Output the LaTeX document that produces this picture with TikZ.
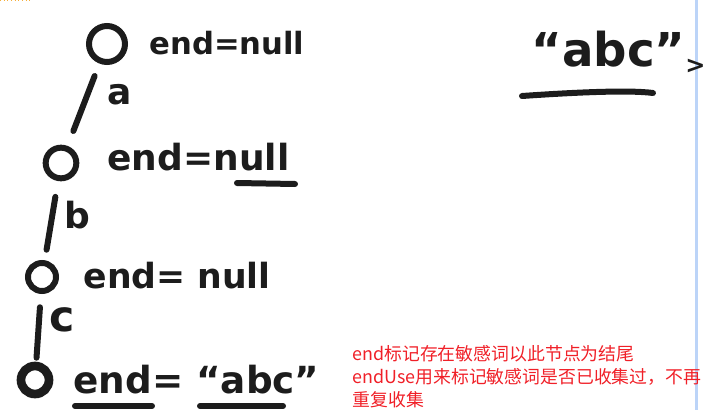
\documentclass[tikz,border=0pt]{standalone}
\usepackage{fontspec}
\newfontfamily\handfont{DejaVu Sans}
\newfontfamily\cjk{Noto Sans CJK SC}
\usetikzlibrary{positioning}

\definecolor{ink}{RGB}{28,28,28}
\definecolor{notered}{RGB}{240,32,40}
\definecolor{paneblue}{RGB}{188,212,248}
\definecolor{tagorange}{RGB}{245,175,60}

\tikzset{every picture/.style={line width=0.75pt}}
\tikzset{
  trienode/.style={circle,draw=ink,line width=4.5pt,inner sep=0pt,fill=white},
  trieedge/.style={draw=ink,line width=4.5pt,line cap=round},
  underline/.style={draw=ink,line width=4.5pt,line cap=round},
  handtext/.style={anchor=base west,inner sep=0.75pt,text=ink,font=\handfont\bfseries},
  edgelabel/.style={inner sep=0.75pt,text=ink,font=\handfont\bfseries\fontsize{27}{27}\selectfont},
}

\begin{document}
\begin{tikzpicture}[x=0.75pt,y=0.75pt,yscale=-1,xscale=1]
\useasboundingbox (0,0) rectangle (707,410);

%Window edge
    \draw [color=paneblue,line width=2.25pt] (696,0) -- (696,410) ;
    \draw [color=tagorange,line width=0.75pt,dotted] (0,0.6) -- (32,0.6) ;

%Trie nodes
    \node [trienode,minimum size=27pt] (n1) at (107,44) {};
    \node [trienode,minimum size=23pt] (n2) at (61,163) {};
    \node [trienode,minimum size=21pt] (n3) at (42,277) {};
    \node [trienode,minimum size=21pt,line width=6.5pt] (n4) at (35,380) {};

%Edges
    \draw [trieedge,shorten <=10pt,shorten >=12pt] (n1) -- (n2) ;
    \draw [trieedge,shorten <=12pt,shorten >=8pt] (n2) -- (n3) ;
    \draw [trieedge,shorten <=10pt,shorten >=3pt] (n3) -- (n4) ;

% Edge labels
    \node [edgelabel] (la) at (120,95) {a};
    \node [edgelabel] (lb) at (77,215) {b};
    \node [edgelabel,font=\handfont\bfseries\fontsize{32}{32}\selectfont] (lc) at (62,320) {c};

% Text Node
    \node [handtext,font=\handfont\bfseries\fontsize{23}{23}\selectfont] (t1) at (148,55) {end=null};
% Text Node
    \node [handtext,font=\handfont\bfseries\fontsize{27}{27}\selectfont] (t2) at (106,170) {end=null};
% Text Node
    \node [handtext,font=\handfont\bfseries\fontsize{26}{26}\selectfont] (t3) at (82,288) {end= null};
% Text Node
    \node [handtext,font=\handfont\bfseries\fontsize{28}{28}\selectfont] (t4) at (72,393) {end= “abc”};
% Text Node
    \node [handtext,font=\handfont\bfseries\fontsize{35}{35}\selectfont] (word) at (530,67) {“abc”\raisebox{-5pt}{\fontsize{18}{18}\selectfont >}};

%Underlines
    \draw [underline] (237,183) -- (295,184) ;
    \draw [underline] (75,406) -- (152,406) ;
    \draw [underline] (200,406) -- (283,406) ;
    \draw [underline] (522,96) .. controls (580,92) and (630,90) .. (653,93) ;

% Note
    \node [anchor=north west,inner sep=0pt,align=left,text=notered,font=\cjk\fontsize{13.4}{17.2}\selectfont] (note) at (352,345) {end标记存在敏感词以此节点为结尾\\endUse用来标记敏感词是否已收集过，不再\\重复收集};

\end{tikzpicture}
\end{document}
